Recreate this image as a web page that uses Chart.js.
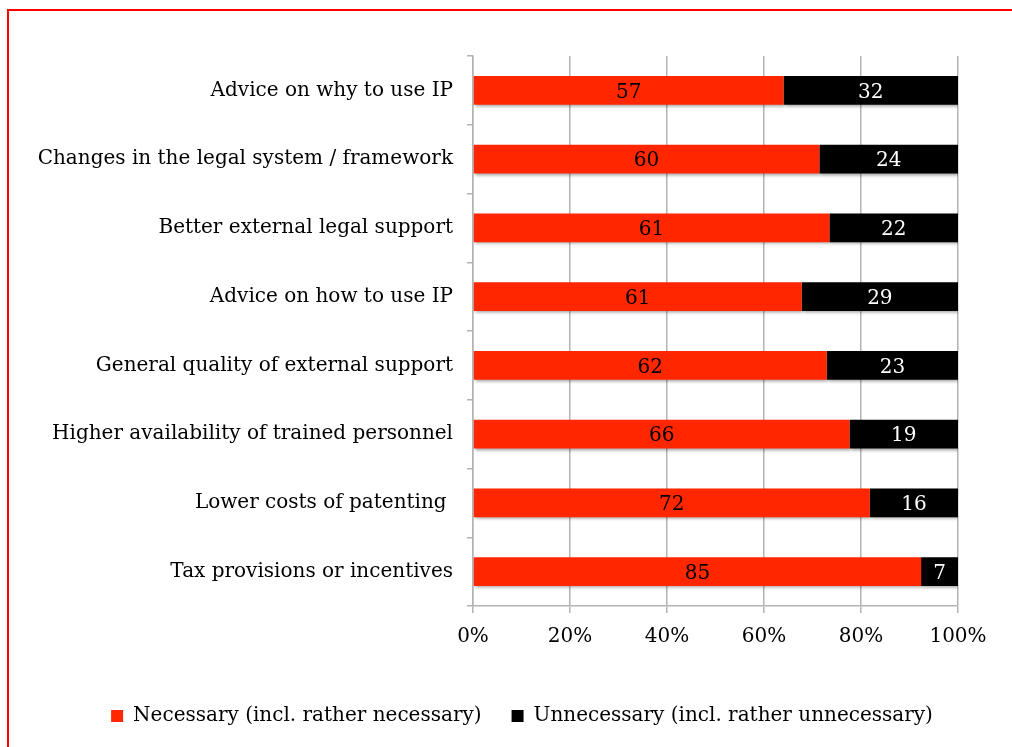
<!DOCTYPE html>
<html>
<head>
<meta charset="utf-8">
<script src="https://cdn.jsdelivr.net/npm/chart.js@4/dist/chart.umd.min.js"></script>
<style>
  html, body { margin: 0; padding: 0; background: #fff; overflow: hidden; }
  #frame { position: absolute; left: 7px; top: 9px; width: 1100px; height: 900px; border: 2px solid #ff0000; }
  #wrap { position: absolute; left: 0; top: 0; width: 1012px; height: 747px; }
</style>
</head>
<body>
<div id="frame"></div>
<div id="wrap"><canvas id="chart"></canvas></div>
<script>
const categories = [
  'Advice on why to use IP',
  'Changes in the legal system / framework',
  'Better external legal support',
  'Advice on how to use IP',
  'General quality of external support',
  'Higher availability of trained personnel',
  'Lower costs of patenting ',
  'Tax provisions or incentives'
];
const necessary = [57, 60, 61, 61, 62, 66, 72, 85];
const unnecessary = [32, 24, 22, 29, 23, 19, 16, 7];
const xTicks = ['0%', '20%', '40%', '60%', '80%', '100%'];

const FONT = 'DejaVu Serif';

// 100% stacked: share of each answer among the two
const pct = (a, b) => a.map((v, i) => v / (v + b[i]) * 100);

const barShadow = {
  id: 'barShadow',
  // legend sits a bit right of the canvas centre in the original
  afterLayout(chart) {
    chart.legend.left += 43;
    chart.legend.right += 43;
  },
  beforeDatasetsDraw(chart) {
    const ctx = chart.ctx;
    ctx.save();
    ctx.shadowColor = 'rgba(0,0,0,0.35)';
    ctx.shadowBlur = 3;
    ctx.shadowOffsetX = 1;
    ctx.shadowOffsetY = 2;
  },
  afterDatasetsDraw(chart) {
    chart.ctx.restore();
  }
};

const valueLabels = {
  id: 'valueLabels',
  afterDatasetsDraw(chart) {
    const ctx = chart.ctx;
    ctx.save();
    ctx.font = '20px "' + FONT + '"';
    ctx.textAlign = 'center';
    ctx.textBaseline = 'middle';
    chart.data.datasets.forEach((ds, di) => {
      const meta = chart.getDatasetMeta(di);
      meta.data.forEach((bar, i) => {
        const p = bar.getCenterPoint();
        ctx.fillStyle = ds.labelColor;
        ctx.fillText(String(ds.raw[i]), p.x, p.y + 2);
      });
    });
    ctx.restore();
  }
};

new Chart(document.getElementById('chart'), {
  type: 'bar',
  data: {
    labels: categories,
    datasets: [
      { label: 'Necessary (incl. rather necessary)', data: pct(necessary, unnecessary), raw: necessary,
        backgroundColor: '#ff2600', labelColor: '#000000' },
      { label: 'Unnecessary (incl. rather unnecessary)', data: pct(unnecessary, necessary), raw: unnecessary,
        backgroundColor: '#000000', labelColor: '#ffffff' }
    ]
  },
  options: {
    indexAxis: 'y',
    responsive: true,
    maintainAspectRatio: false,
    animation: false,
    barPercentage: 0.42,
    categoryPercentage: 1,
    layout: { padding: { left: 0, right: 54, top: 56, bottom: 11 } },
    plugins: {
      tooltip: { enabled: false },
      legend: {
        position: 'bottom',
        labels: {
          boxWidth: 12, boxHeight: 12, padding: 30,
          color: '#000', font: { family: FONT, size: 20 }
        }
      }
    },
    scales: {
      x: {
        stacked: true, min: 0, max: 100,
        ticks: {
          stepSize: 20, padding: 12, color: '#000',
          font: { family: FONT, size: 20 },
          callback: (v, i) => xTicks[i]
        },
        grid: { color: '#b3b3b3', lineWidth: 1.5, tickLength: 7 },
        border: { color: '#b3b3b3', width: 1.5 },
        afterFit: s => { s.height = 70; }
      },
      y: {
        stacked: true,
        ticks: { padding: 14, color: '#000', font: { family: FONT, size: 20 } },
        grid: { drawOnChartArea: false, color: '#b3b3b3', lineWidth: 1.5, tickLength: 6 },
        border: { color: '#b3b3b3', width: 1.5 },
        afterFit: s => { s.width = 473; }
      }
    }
  },
  plugins: [barShadow, valueLabels]
});
</script>
</body>
</html>
